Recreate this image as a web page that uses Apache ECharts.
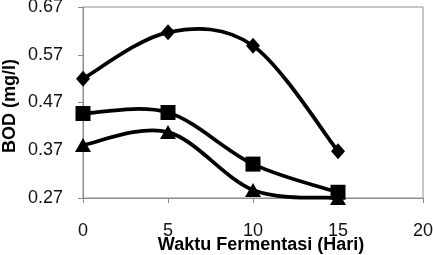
<!DOCTYPE html>
<html><head><meta charset="utf-8">
<script src="https://cdn.jsdelivr.net/npm/echarts@6/dist/echarts.min.js"></script>
<style>html,body{margin:0;padding:0;background:#fff}#c{width:433px;height:255px}</style>
</head><body><div id="c"></div>
<script>
const days = [0, 5, 10, 15];
const seriesDiamond = [0.52, 0.617, 0.589, 0.368];
const seriesSquare = [0.447, 0.449, 0.341, 0.282];
const seriesTriangle = [0.381, 0.408, 0.287, 0.27];
const yTicks = [0.27, 0.37, 0.47, 0.57, 0.67];
const xTicks = [0, 5, 10, 15, 20];
const xName = 'Waktu Fermentasi (Hari)';
const yName = 'BOD (mg/l)';

const chart = echarts.init(document.getElementById('c'), null, {renderer: 'canvas'});
const font = 'Liberation Sans, Arial, sans-serif';

// Smooth curve (Excel-like Catmull-Rom) drawn through the axis scales
function curve(values) {
  return {
    type: 'custom', coordinateSystem: 'cartesian2d', silent: true, z: 2,
    data: days.map((d, i) => [d, values[i]]),
    encode: {x: 0, y: 1},
    renderItem: function (params, api) {
      if (params.dataIndex !== 0) return null;
      const p = days.map((d, i) => api.coord([d, values[i]]));
      const n = p.length;
      const children = [];
      for (let i = 0; i < n - 1; i++) {
        const p0 = p[Math.max(i - 1, 0)], p1 = p[i], p2 = p[i + 1], p3 = p[Math.min(i + 2, n - 1)];
        children.push({
          type: 'bezierCurve',
          shape: {
            x1: p1[0], y1: p1[1], x2: p2[0], y2: p2[1],
            cpx1: p1[0] + (p2[0] - p0[0]) / 6, cpy1: p1[1] + (p2[1] - p0[1]) / 6,
            cpx2: p2[0] - (p3[0] - p1[0]) / 6, cpy2: p2[1] - (p3[1] - p1[1]) / 6
          },
          style: {stroke: '#000', lineWidth: 3.75, fill: null, lineCap: 'round'}
        });
      }
      return {type: 'group', children: children};
    }
  };
}
function markers(values, symbol, size) {
  return {
    type: 'scatter', data: days.map((d, i) => [d, values[i]]),
    symbol: symbol, symbolSize: size, itemStyle: {color: '#000', opacity: 1}, z: 3, silent: true
  };
}
chart.setOption({
  animation: false,
  grid: {left: 83, right: 10, top: 7, bottom: 57, show: true, borderColor: '#8c8c8c', borderWidth: 1,
    containLabel: false, outerBoundsMode: 'none'},
  xAxis: {
    type: 'value', min: 0, max: 20, interval: 5,
    axisLine: {show: true, onZero: false, lineStyle: {color: '#8c8c8c', width: 1}},
    axisTick: {show: true, inside: false, length: 5, lineStyle: {color: '#8c8c8c'}},
    axisLabel: {fontFamily: font, fontSize: 18, color: '#111', margin: 24, customValues: xTicks},
    splitLine: {show: false}
  },
  yAxis: {
    type: 'value', min: 0.27, max: 0.67,
    axisLine: {show: true, onZero: false, lineStyle: {color: '#8c8c8c', width: 1}},
    axisTick: {show: true, inside: false, length: 5, lineStyle: {color: '#8c8c8c'}, customValues: yTicks},
    axisLabel: {fontFamily: font, fontSize: 18, color: '#111', margin: 20,
      customValues: yTicks, formatter: v => v.toFixed(2)},
    splitLine: {show: false}
  },
  graphic: [
    {type: 'text', x: 261, y: 245, silent: true,
      style: {text: xName, font: 'bold 18px ' + font, fill: '#000', textAlign: 'center', textVerticalAlign: 'middle'}},
    {type: 'text', x: 10, y: 106, rotation: Math.PI / 2, silent: true,
      style: {text: yName, font: 'bold 18px ' + font, fill: '#000', textAlign: 'center', textVerticalAlign: 'middle'}}
  ],
  series: [
    curve(seriesDiamond), curve(seriesSquare), curve(seriesTriangle),
    markers(seriesDiamond, 'diamond', [14, 16]),
    markers(seriesSquare, 'rect', 15),
    markers(seriesTriangle, 'triangle', [16, 14])
  ]
});
</script></body></html>
